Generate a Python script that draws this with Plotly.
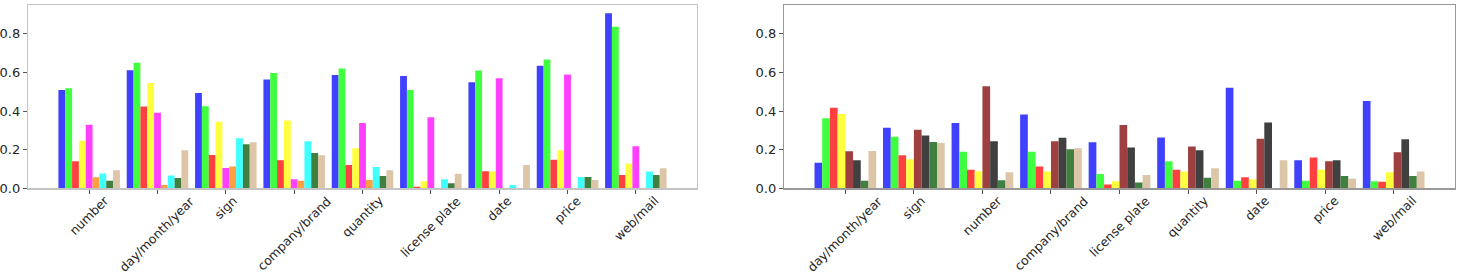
import plotly.graph_objects as go

# ---------------- data ----------------
left_categories = ["number", "day/month/year", "sign", "company/brand", "quantity",
                   "license plate", "date", "price", "web/mail"]
right_categories = ["day/month/year", "sign", "number", "company/brand", "license plate",
                    "quantity", "date", "price", "web/mail"]

left_blue    = [0.509, 0.612, 0.494, 0.563, 0.587, 0.582, 0.550, 0.635, 0.906]
left_green   = [0.518, 0.650, 0.425, 0.597, 0.620, 0.509, 0.610, 0.667, 0.837]
left_red     = [0.141, 0.424, 0.173, 0.145, 0.121, 0.008, 0.089, 0.148, 0.069]
left_yellow  = [0.247, 0.545, 0.345, 0.351, 0.208, 0.037, 0.087, 0.197, 0.129]
left_magenta = [0.329, 0.392, 0.106, 0.047, 0.339, 0.368, 0.570, 0.590, 0.218]
left_orange  = [0.057, 0.017, 0.113, 0.039, 0.044, 0.0, 0.0, 0.0, 0.0]
left_cyan    = [0.077, 0.067, 0.259, 0.244, 0.111, 0.047, 0.018, 0.059, 0.087]
left_dkgreen = [0.039, 0.054, 0.229, 0.183, 0.064, 0.027, 0.0, 0.059, 0.069]
left_tan     = [0.094, 0.197, 0.239, 0.171, 0.094, 0.076, 0.121, 0.044, 0.104]

right_blue    = [0.133, 0.314, 0.339, 0.383, 0.239, 0.264, 0.521, 0.146, 0.452]
right_green   = [0.363, 0.267, 0.190, 0.190, 0.074, 0.141, 0.039, 0.039, 0.037]
right_red     = [0.418, 0.171, 0.097, 0.113, 0.020, 0.096, 0.057, 0.160, 0.034]
right_yellow  = [0.385, 0.151, 0.089, 0.087, 0.037, 0.087, 0.047, 0.097, 0.084]
right_brown   = [0.192, 0.303, 0.529, 0.244, 0.328, 0.217, 0.257, 0.141, 0.187]
right_black   = [0.146, 0.274, 0.244, 0.262, 0.212, 0.197, 0.341, 0.146, 0.254]
right_dkgreen = [0.039, 0.240, 0.042, 0.203, 0.030, 0.055, 0.0, 0.064, 0.064]
right_tan     = [0.193, 0.235, 0.084, 0.208, 0.069, 0.104, 0.145, 0.050, 0.087]

y_ticks = [0.0, 0.2, 0.4, 0.6, 0.8]

# ---------------- styling ----------------
COL = {
    "blue": "#4040ff", "green": "#40ff40", "red": "#ff4040", "yellow": "#ffff40",
    "magenta": "#ff40ff", "orange": "#ff9f40", "cyan": "#40ffff",
    "dkgreen": "#407f40", "tan": "#ddc6a8", "brown": "#9f4040", "black": "#404040",
}

left_series = [("blue", left_blue), ("green", left_green), ("red", left_red),
               ("yellow", left_yellow), ("magenta", left_magenta), ("orange", left_orange),
               ("cyan", left_cyan), ("dkgreen", left_dkgreen), ("tan", left_tan)]
right_series = [("blue", right_blue), ("green", right_green), ("red", right_red),
                ("yellow", right_yellow), ("brown", right_brown), ("black", right_black),
                ("dkgreen", right_dkgreen), ("tan", right_tan)]

W, H = 1458, 276
FONT = "DejaVu Sans"

fig = go.Figure()
for name, vals in left_series:
    fig.add_trace(go.Bar(x=left_categories, y=vals, name=name, marker_color=COL[name],
                         marker_line_width=0, xaxis="x", yaxis="y", showlegend=False))
for name, vals in right_series:
    fig.add_trace(go.Bar(x=right_categories, y=vals, name=name, marker_color=COL[name],
                         marker_line_width=0, xaxis="x2", yaxis="y2", showlegend=False))

y_bottom = 1 - 194 / H
y_top = 1 - 5 / H

def xaxis(domain, linecolor, anchor):
    return dict(domain=domain, anchor=anchor, type="category", range=[-0.895, 8.895],
                showline=True, mirror=True, linecolor=linecolor, linewidth=1.2,
                showgrid=False, zeroline=False, ticks="outside", ticklen=4,
                tickcolor="#555555", showticklabels=False)

def yaxis(domain, linecolor, anchor):
    return dict(domain=domain, anchor=anchor, range=[0, 0.95], tickvals=y_ticks,
                tickformat=".1f", showline=True, mirror=True, linecolor=linecolor,
                linewidth=1.2, showgrid=False, zeroline=False, ticks="outside",
                ticklen=4, tickcolor="#555555",
                tickfont=dict(family=FONT, size=13, color="#262626"))

annotations = []
for cats, xref in ((left_categories, "x"), (right_categories, "x2")):
    for c in cats:
        annotations.append(dict(x=c, xref=xref, y=y_bottom, yref="paper",
                                text=c, showarrow=False, textangle=-45,
                                xanchor="center", yanchor="top", yshift=-2,
                                font=dict(family=FONT, size=12.4, color="#262626")))

fig.update_layout(
    width=W, height=H,
    margin=dict(l=0, r=0, t=0, b=0),
    paper_bgcolor="white", plot_bgcolor="white",
    barmode="group", bargap=0.1, bargroupgap=0,
    xaxis=xaxis([28 / W, 697 / W], "#c4c4c4", "y"),
    yaxis=yaxis([y_bottom, y_top], "#c4c4c4", "x"),
    xaxis2=xaxis([784 / W, 1455 / W], "#999999", "y2"),
    yaxis2=yaxis([y_bottom, y_top], "#999999", "x2"),
    annotations=annotations,
)

fig.write_html("out.html", config={"displayModeBar": False, "staticPlot": True},
               post_script="document.body.style.margin='0';document.body.style.overflow='hidden';")
